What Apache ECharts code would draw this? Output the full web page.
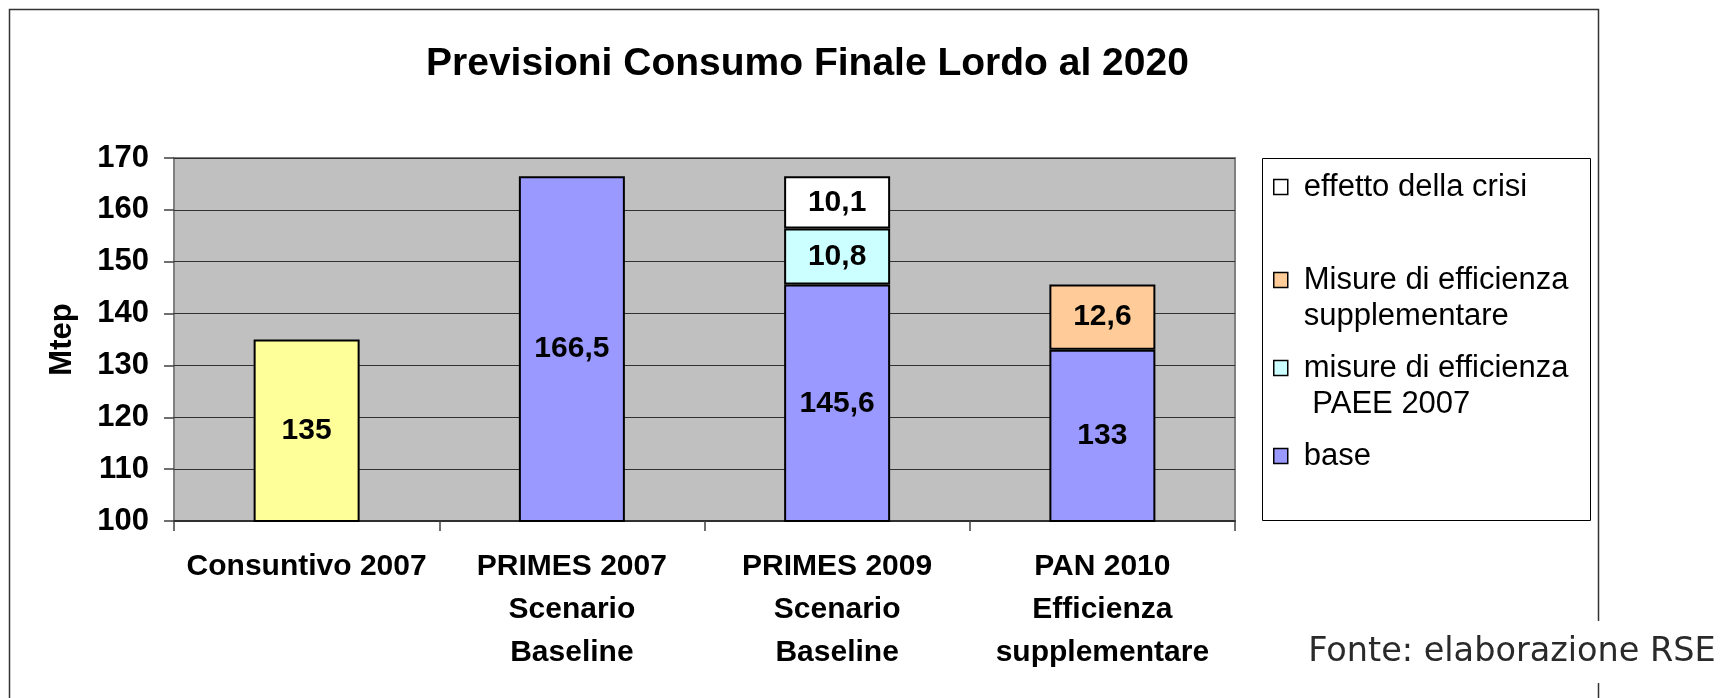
<!DOCTYPE html>
<html>
<head>
<meta charset="utf-8">
<script src="https://cdn.jsdelivr.net/npm/echarts@6/dist/echarts.min.js"></script>
<style>
html,body{margin:0;padding:0;background:#fff;}
#chart{width:1726px;height:698px;}
</style>
</head>
<body>
<div id="chart"></div>
<script>
const categories = ['Consuntivo 2007', 'PRIMES 2007\nScenario\nBaseline', 'PRIMES 2009\nScenario\nBaseline', 'PAN 2010\nEfficienza\nsupplementare'];
const baseValues = [135, 166.5, 145.6, 133];
const paeeValues = [null, null, 10.8, null];
const supplValues = [null, null, null, 12.6];
const crisiValues = [null, null, 10.1, null];
const yTicks = { min: 100, max: 170, interval: 10 };

const FONT = '"Liberation Sans", Arial, sans-serif';
const fmt = p => (p.value == null ? '' : String(p.value).replace('.', ','));

const labelCfg = { show: true, position: 'inside', formatter: fmt, color: '#000', fontWeight: 'bold', fontSize: 30, fontFamily: FONT };
const border = { borderColor: '#000', borderWidth: 2 };

const chart = echarts.init(document.getElementById('chart'), null, { renderer: 'canvas' });

const LH = 36;
// markerCenter: y of the marker centre (aligned with the first text line)
function legendAt(name, markerCenter, twoLines) {
  return {
    data: [name], left: 1273, top: twoLines ? markerCenter - 1.5 * LH : markerCenter - LH / 2,
    orient: 'vertical', padding: 0,
    itemWidth: 14, itemHeight: 15, icon: 'rect', selectedMode: false,
    itemStyle: { borderColor: '#000', borderWidth: 1.5 },
    formatter: twoLines ? (n => '\n' + n) : (n => n),
    textStyle: { fontSize: 31, fontFamily: FONT, color: '#000', lineHeight: LH, padding: [0, 0, 0, 11] }
  };
}

const option = {
  animation: false,
  backgroundColor: '#fff',
  title: {
    text: 'Previsioni Consumo Finale Lordo al 2020',
    left: 426, top: 45, padding: 0,
    textStyle: { fontSize: 39, fontWeight: 'bold', fontFamily: FONT, color: '#000' }
  },
  graphic: [
    { type: 'rect', z: -10, silent: true, shape: { x: 9.5, y: 9.5, width: 1589, height: 800 },
      style: { fill: '#fff', stroke: '#333', lineWidth: 1.5 } },
    { type: 'rect', z: 1, silent: true, shape: { x: 1262.5, y: 158.5, width: 328, height: 362 },
      style: { fill: '#fff', stroke: '#000', lineWidth: 1 } },
    { type: 'text', z: 20, silent: true, x: 1512, y: 652,
      style: { text: 'Fonte: elaborazione RSE', fontSize: 33.5, fontFamily: '"DejaVu Sans", Verdana, sans-serif',
        fontWeight: 'normal', fill: '#2a2a2a', align: 'center', verticalAlign: 'middle',
        backgroundColor: '#fff', padding: [14, 4] } }
  ],
  legend: [
    legendAt('effetto della crisi', 187, false),
    legendAt('Misure di efficienza\nsupplementare', 280, true),
    legendAt('misure di efficienza\n PAEE 2007', 368, true),
    legendAt('base', 456, false)
  ],
  grid: {
    left: 174, top: 158, right: 1726 - 1235, bottom: 698 - 521,
    show: true, backgroundColor: '#c0c0c0', borderColor: '#808080', borderWidth: 2,
    containLabel: false
  },
  xAxis: {
    type: 'category', data: categories,
    axisLine: { show: true, lineStyle: { color: '#303030', width: 2 } },
    axisTick: { show: true, length: 10, lineStyle: { color: '#404040', width: 1.5 } },
    axisLabel: { interval: 0, margin: 24, fontSize: 30, fontWeight: 'bold', fontFamily: FONT,
      color: '#000', lineHeight: 43, align: 'center' },
    splitLine: { show: false }
  },
  yAxis: {
    type: 'value', min: yTicks.min, max: yTicks.max, interval: yTicks.interval,
    name: 'Mtep', nameLocation: 'middle', nameRotate: 90, nameGap: 96,
    nameTextStyle: { fontSize: 31, fontWeight: 'bold', fontFamily: FONT, color: '#000' },
    axisLine: { show: false },
    axisTick: { show: true, length: 10, lineStyle: { color: '#404040', width: 1.5 } },
    axisLabel: { margin: 25, fontSize: 31, fontWeight: 'bold', fontFamily: FONT, color: '#000' },
    splitLine: { show: true, lineStyle: { color: '#303030', width: 1.2 } }
  },
  series: [
    { name: 'base', type: 'bar', stack: 'tot', barWidth: 106,
      itemStyle: Object.assign({ color: '#9999FF' }, border), label: labelCfg,
      data: baseValues.map((v, i) => i === 0 ? { value: v, itemStyle: { color: '#FFFF99' } } : v) },
    { name: 'misure di efficienza\n PAEE 2007', type: 'bar', stack: 'tot', barWidth: 106,
      itemStyle: Object.assign({ color: '#CCFFFF' }, border), label: labelCfg, data: paeeValues },
    { name: 'Misure di efficienza\nsupplementare', type: 'bar', stack: 'tot', barWidth: 106,
      itemStyle: Object.assign({ color: '#FFCC99' }, border), label: labelCfg, data: supplValues },
    { name: 'effetto della crisi', type: 'bar', stack: 'tot', barWidth: 106,
      itemStyle: Object.assign({ color: '#FFFFFF' }, border), label: labelCfg, data: crisiValues }
  ]
};
chart.setOption(option);
</script>
</body>
</html>
